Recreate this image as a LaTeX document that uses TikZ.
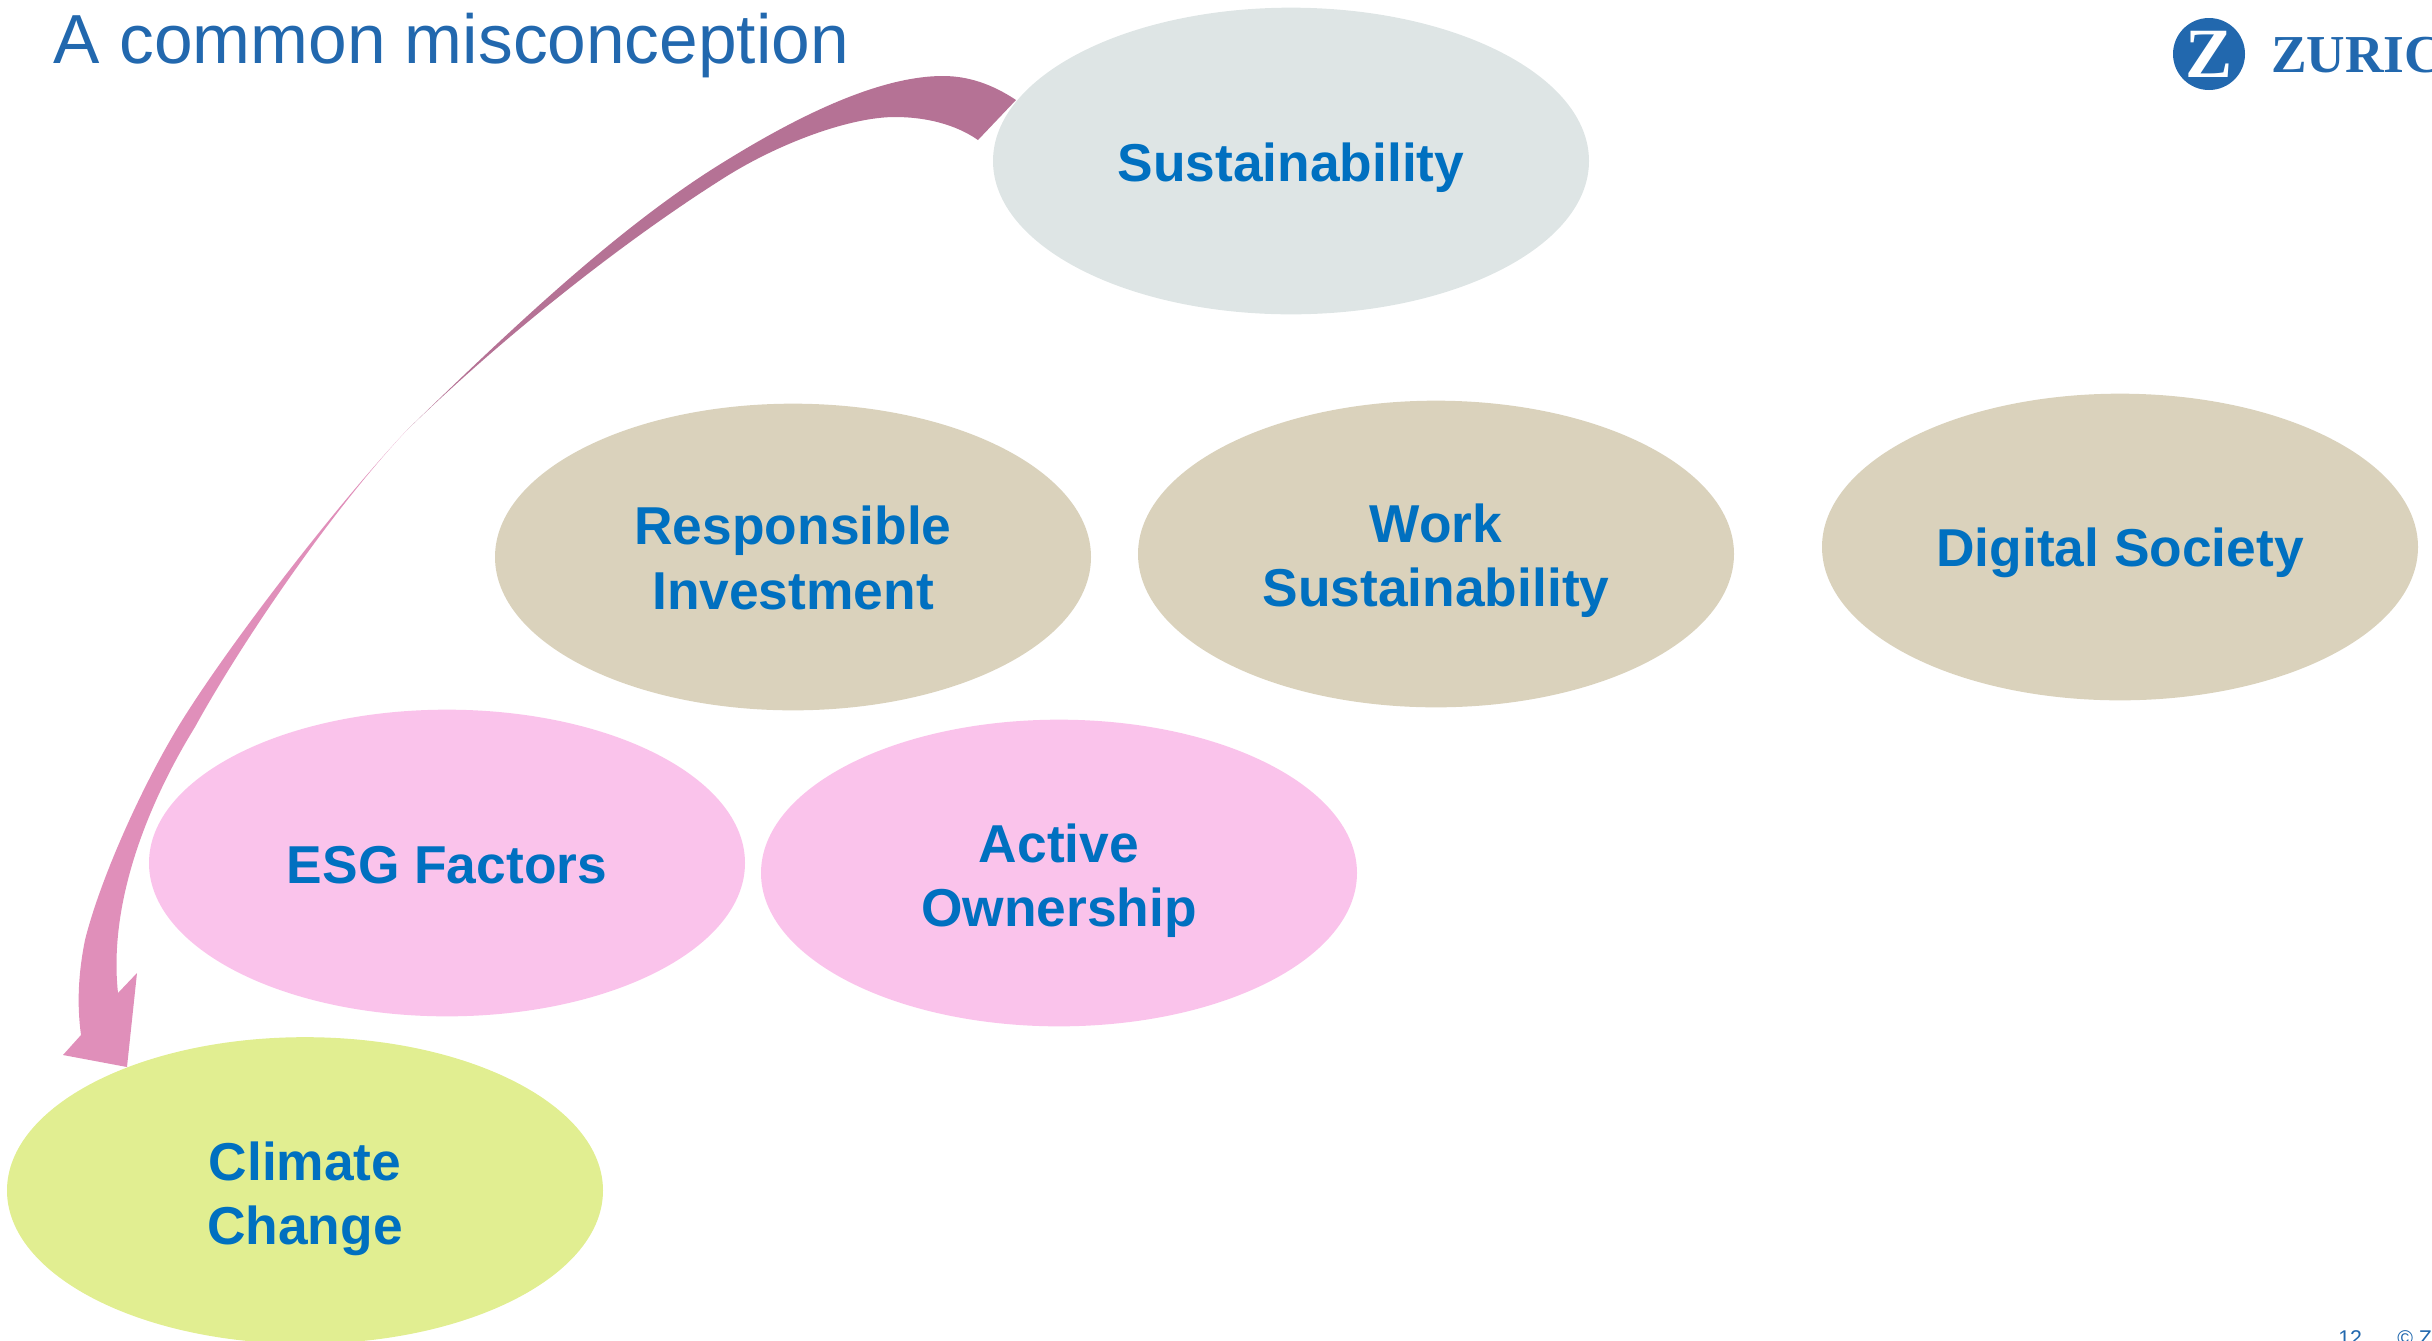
\documentclass[tikz,border=0pt]{standalone}
\usepackage{xcolor}
\usepackage{fontspec}
\usepackage{tikz}
\usetikzlibrary{shapes.geometric}
\setmainfont{Liberation Sans}
\newfontfamily\logofont{Liberation Serif}

\definecolor{labelblue}{HTML}{0070C0}
\definecolor{zurichblue}{HTML}{2268AE}
\definecolor{greyfill}{HTML}{DEE5E5}
\definecolor{tanfill}{HTML}{DAD2BC}
\definecolor{pinkfill}{HTML}{FAC3EB}
\definecolor{limefill}{HTML}{E1EE91}
\definecolor{mauvearrow}{HTML}{B57295}
\definecolor{pinkarrow}{HTML}{E08FBA}

\tikzset{
  topic/.style={ellipse,minimum width=447pt,minimum height=230pt,inner sep=0pt},
  topictext/.style={inner sep=0pt,align=center,text=labelblue,font=\fontsize{40}{48.2}\selectfont\bfseries},
  foot/.style={anchor=north west,inner sep=0pt,text=zurichblue,font=\fontsize{16}{19}\selectfont}
}

\begin{document}
\begin{tikzpicture}[x=0.75pt,y=0.75pt,yscale=-1,xscale=1]

\path [use as bounding box,clip] (0,0) rectangle (2432,1340);

% ellipses
\node [topic,fill=greyfill] (sustainability) at (1291,161) {};
\node [topic,fill=tanfill] (responsible) at (793,557) {};
\node [topic,fill=tanfill] (work) at (1436,554) {};
\node [topic,fill=tanfill] (digital) at (2120,547) {};
\node [topic,fill=pinkfill] (esg) at (447,863) {};
\node [topic,fill=pinkfill] (active) at (1059,873) {};
\node [topic,fill=limefill] (climate) at (305,1190.5) {};

% ellipse texts
\node [topictext] (sustainabilitytext) at (1291,168) {Sustainability};
\node [topictext] (responsibletext) at (793,558) {Responsible\\Investment};
\node [topictext] (worktext) at (1436,561) {Work\\Sustainability};
\node [topictext] (digitaltext) at (2120,553) {Digital Society};
\node [topictext] (esgtext) at (447,865) {ESG Factors};
\node [topictext] (activetext) at (1059,881) {Active\\Ownership};
\node [topictext] (climatetext) at (305,1199) {Climate\\Change};

% twisted arrow
\coordinate (twist) at (407,430);
\fill [mauvearrow] (1016,100) .. controls (992,84) and (968,76) .. (943,76)
  .. controls (880,76) and (800,115) .. (727,160)
  .. controls (620,225) and (510,330) .. (twist)
  .. controls (505,335) and (625,240) .. (727,176)
  .. controls (780,143) and (850,117) .. (895,117)
  .. controls (925,117) and (955,124) .. (978,140) -- cycle ;
\fill [pinkarrow] (twist) .. controls (332,510) and (225,650) .. (178,727)
  .. controls (140,790) and (100,880) .. (85,940)
  .. controls (78,975) and (77,1005) .. (81,1035)
  -- (63,1055) -- (127,1067) -- (137,973) -- (118,993)
  .. controls (108,900) and (150,800) .. (195,727)
  .. controls (240,645) and (330,512) .. (twist) -- cycle ;

% title
\node [anchor=base west,inner sep=0pt,text=zurichblue,font=\fontsize{52.1}{60}\selectfont] (title) at (53.5,63) {A common misconception};

% logo
\node [circle,fill=zurichblue,minimum size=54pt,inner sep=0pt] (badge) at (2209,54) {};
\node [text=white,inner sep=0pt,font=\logofont\fontsize{53}{53}\selectfont\bfseries] (badgez) at (2209,54) {Z};
\node [anchor=base west,inner sep=0pt,text=zurichblue,font=\logofont\fontsize{40}{40}\selectfont\bfseries] (wordmark) at (2271,72) {ZURIC};

% footer
\node [foot] (pagenum) at (2338,1330) {12};
\node [foot] (copyright) at (2397,1330) {© Z};

\end{tikzpicture}
\end{document}
